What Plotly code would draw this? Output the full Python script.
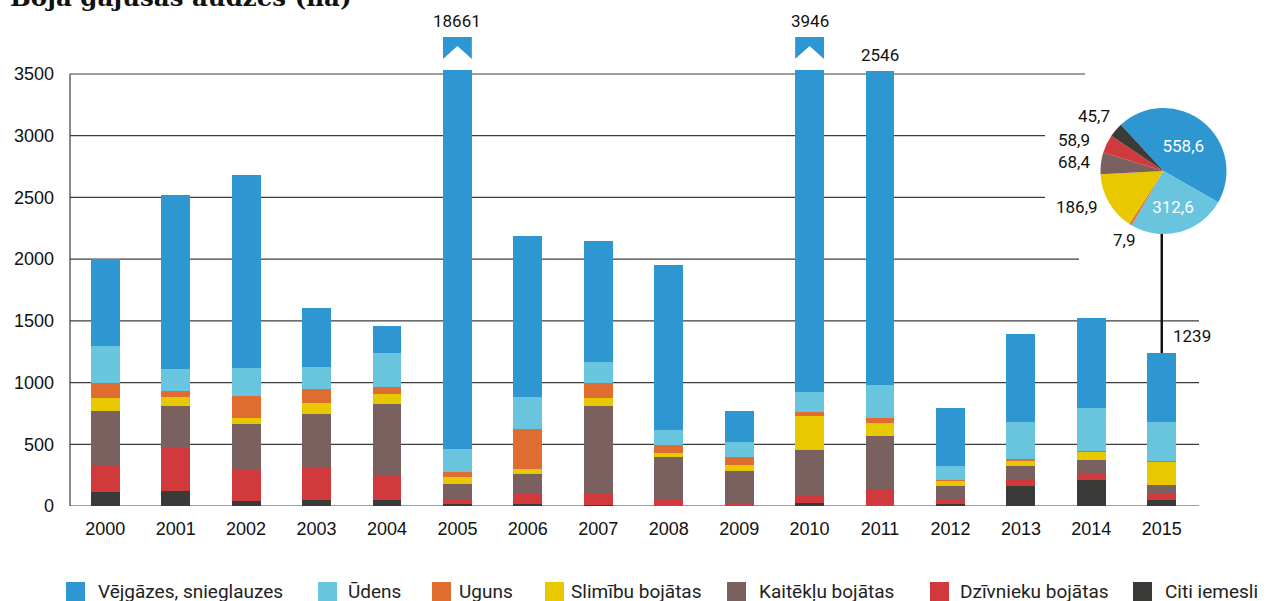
import plotly.graph_objects as go

# ---------------- data ----------------
years = list(range(2000, 2016))
series_names = ["Vējgāzes, snieglauzes", "Ūdens", "Uguns", "Slimību bojātas",
                "Kaitēkļu bojātas", "Dzīvnieku bojātas", "Citi iemesli"]
colors = ["#2e96d0", "#69c4de", "#e06d30", "#e8c800", "#7b6060", "#d03a3c", "#3a3a38"]

citi      = [113, 122, 41, 49, 49, 16, 16, 8, 3, 3, 24, 0, 16, 162, 211, 45.7]
dzivnieku = [219, 350, 253, 267, 202, 35, 81, 89, 48, 21, 60, 138, 33, 49, 56, 58.9]
kaiteklu  = [438, 338, 370, 430, 576, 127, 162, 713, 346, 260, 370, 429, 113, 113, 106, 68.4]
slimibu   = [105, 73, 49, 89, 81, 57, 41, 65, 33, 48, 275, 106, 41, 41, 65, 186.9]
uguns     = [125, 49, 178, 113, 56, 41, 324, 122, 64, 65, 33, 40, 8, 16, 8, 7.9]
udens     = [300, 178, 227, 178, 276, 186, 259, 170, 122, 122, 162, 268, 113, 300, 348, 312.6]
vejgazes  = [700, 1410, 1564, 479, 219, 18199, 1305, 981, 1337, 251, 3022, 2546, 470, 713, 730, 558.6]

label_years = [2005, 2010, 2011, 2015]
label_texts = ["18661", "3946", "2546", "1239"]

y_ticks = [0, 500, 1000, 1500, 2000, 2500, 3000, 3500]
pie_year = 2015

# ---------------- layout constants (page pixels) ----------------
W, H = 1267, 601
PLOT_LEFT, PLOT_RIGHT, PLOT_TOP, PLOT_BOTTOM = 70, 1247, 10, 506
ML, MT = PLOT_LEFT, PLOT_TOP
MR, MB = W - PLOT_RIGHT, H - PLOT_BOTTOM
PLOT_W = PLOT_RIGHT - PLOT_LEFT
PLOT_H = PLOT_BOTTOM - PLOT_TOP
BAR_AREA_RIGHT = 1197
PX_PER_UNIT = 432 / 3500
Y_MAX = PLOT_H / PX_PER_UNIT
CAP = 3530
BAR_W = 0.41


def px_x(px):
    return (px - PLOT_LEFT) / PLOT_W


def px_y(py):
    return (PLOT_BOTTOM - py) / PLOT_H


def val_of_py(py):
    return (PLOT_BOTTOM - py) / PX_PER_UNIT


stack = [citi, dzivnieku, kaiteklu, slimibu, uguns, udens, vejgazes]
stack_names = series_names[::-1]
stack_colors = colors[::-1]
totals = [sum(s[i] for s in stack) for i in range(len(years))]
below_top = [sum(s[i] for s in stack[:-1]) for i in range(len(years))]
veg_shown = [min(t, CAP) - b for t, b in zip(totals, below_top)]

fig = go.Figure()
for i, (vals, name, col) in enumerate(zip(stack, stack_names, stack_colors)):
    shown = veg_shown if i == len(stack) - 1 else vals
    fig.add_trace(go.Bar(x=years, y=shown, name=name, width=BAR_W,
                         marker=dict(color=col, line=dict(width=0)),
                         showlegend=False, hoverinfo="skip"))

# pie for 2015
pi = years.index(pie_year)
pie_vals = [s[pi] for s in stack][::-1]
pie_text = [f"{v:.1f}".replace(".", ",") for v in pie_vals]
pie_dom_x = [px_x(1100.5), px_x(1226.5)]
pie_dom_y = [px_y(234), px_y(108)]
fig.add_trace(go.Pie(values=pie_vals, labels=series_names, sort=False,
                     direction="clockwise", rotation=-42.6,
                     marker=dict(colors=colors, line=dict(width=0)),
                     text=pie_text, textinfo="text",
                     textposition=["inside", "inside", "none", "none", "none", "none", "none"],
                     insidetextfont=dict(color="white", size=17, family="Roboto"),
                     domain=dict(x=pie_dom_x, y=pie_dom_y),
                     showlegend=False, hoverinfo="skip"))

shapes = []
grid_end = {3500: 1085, 3000: 1045, 2500: 1045, 2000: 1079}
for v in y_ticks:
    shapes.append(dict(type="line", xref="paper", yref="y", x0=0, x1=px_x(grid_end.get(v, 1199)),
                       y0=v, y1=v, line=dict(color="#3c3c3c", width=1.2), layer="below"))
shapes.append(dict(type="line", xref="paper", yref="y", x0=0, x1=0, y0=0, y1=y_ticks[-1],
                   line=dict(color="#3c3c3c", width=1.2), layer="below"))

# break caps for truncated bars
cap_bot = val_of_py(59)
cap_top = val_of_py(37)
cap_apex = val_of_py(46)
for yr, t in zip(years, totals):
    if t > CAP:
        x0, x1 = yr - BAR_W / 2, yr + BAR_W / 2
        path = (f"M{x0},{cap_top} L{x1},{cap_top} L{x1},{cap_bot} "
                f"L{yr},{cap_apex} L{x0},{cap_bot} Z")
        shapes.append(dict(type="path", xref="x", yref="y", path=path,
                           fillcolor=colors[0], line=dict(width=0)))

# connector from 2015 bar to pie
shapes.append(dict(type="line", xref="x", yref="y", x0=pie_year, x1=pie_year,
                   y0=totals[pi], y1=pie_dom_y[0] * Y_MAX,
                   line=dict(color="#111111", width=2.5)))

annotations = []
for yr, txt in zip(label_years, label_texts):
    i = years.index(yr)
    if yr == pie_year:
        annotations.append(dict(x=yr, y=totals[i], xref="x", yref="y", text=txt,
                                showarrow=False, xanchor="left", yanchor="bottom",
                                xshift=9, yshift=5,
                                font=dict(family="Roboto", size=17, color="#111")))
    else:
        top = cap_top if totals[i] > CAP else min(totals[i], CAP)
        annotations.append(dict(x=yr, y=top, xref="x", yref="y", text=txt,
                                showarrow=False, xanchor="center", yanchor="bottom",
                                yshift=4, font=dict(family="Roboto", size=17, color="#111")))

pie_lbl_pos = [(1137, 240), (1100, 207), (1092, 162), (1092, 140), (1112, 116)]
for txt, (px, py) in zip(pie_text[2:], pie_lbl_pos):
    annotations.append(dict(x=px_x(px), y=px_y(py), xref="paper", yref="paper", text=txt,
                            showarrow=False, xanchor="right", yanchor="middle",
                            font=dict(family="Roboto", size=17, color="#111")))

annotations.append(dict(x=px_x(8), y=px_y(14), xref="paper", yref="paper",
                        text="<b>Bojā gājušās audzes (ha)</b>", showarrow=False,
                        xanchor="left", yanchor="bottom",
                        font=dict(family="DejaVu Serif", size=24.5, color="#111")))

leg_sq_x = [66, 318, 432, 545, 727, 930, 1133]
leg_txt_x = [96, 346, 457, 569, 757, 958, 1163]
for name, col, sx, tx in zip(series_names, colors, leg_sq_x, leg_txt_x):
    shapes.append(dict(type="rect", xref="paper", yref="paper",
                       x0=px_x(sx), x1=px_x(sx + 19), y0=px_y(602), y1=px_y(582),
                       fillcolor=col, line=dict(width=0)))
    annotations.append(dict(x=px_x(tx), y=px_y(591), xref="paper", yref="paper", text=name,
                            showarrow=False, xanchor="left", yanchor="middle",
                            font=dict(family="Roboto", size=19, color="#222")))

fig.update_layout(
    width=W, height=H,
    margin=dict(l=ML, r=MR, t=MT, b=MB),
    paper_bgcolor="white", plot_bgcolor="white",
    barmode="stack",
    showlegend=False,
    shapes=shapes, annotations=annotations,
    xaxis=dict(domain=[0, (BAR_AREA_RIGHT - PLOT_LEFT) / PLOT_W],
               range=[years[0] - 0.5, years[-1] + 0.5],
               tickvals=years, ticktext=[str(y) for y in years],
               showgrid=False, zeroline=False, showline=False, ticks="",
               ticklabelstandoff=10,
               tickfont=dict(family="Liberation Sans", size=18, color="#111")),
    yaxis=dict(range=[0, Y_MAX], tickvals=y_ticks, ticktext=[str(v) for v in y_ticks],
               showgrid=False, zeroline=False, showline=False, ticks="",
               ticklabelstandoff=15,
               tickfont=dict(family="Liberation Sans", size=18, color="#111")),
)

fig.write_html("out.html", config={"displayModeBar": False},
               post_script="document.body.style.margin='0';document.body.style.overflow='hidden';")
